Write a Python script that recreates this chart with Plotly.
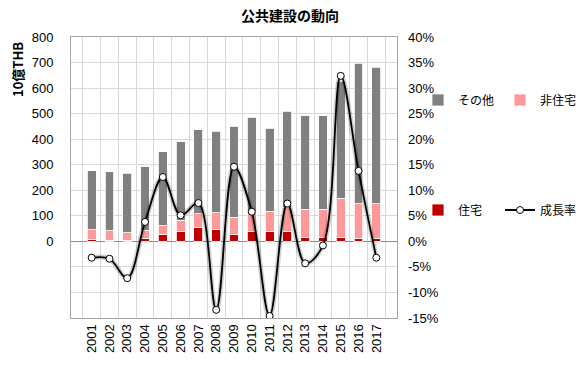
import plotly.graph_objects as go

years = [str(y) for y in range(2001, 2018)]
housing = [7, 5, 3, 13, 25, 38, 53, 45, 26, 38, 38, 40, 17, 17, 16, 13, 10]
nonhousing_top = [45, 41, 33, 44, 62, 83, 109, 113, 94, 118, 118, 132, 126, 126, 168, 148, 148]
total = [277, 273, 266, 293, 350, 389, 437, 431, 450, 485, 442, 509, 492, 491, 626, 697, 682]
growth = [-3.2, -3.4, -7.2, 3.8, 12.6, 5.1, 7.5, -13.4, 14.6, 5.8, -14.6, 7.4, -4.3, -0.8, 32.4, 13.8, -3.2]
left_ticks = list(range(0, 801, 100))
right_ticks = list(range(-15, 41, 5))
right_labels = [f"{v}%" for v in right_ticks]

nonhousing = [a - b for a, b in zip(nonhousing_top, housing)]
other = [a - b for a, b in zip(total, nonhousing_top)]

FONT = "Liberation Sans, Arial, Noto Sans CJK JP"
JP = "Noto Sans CJK JP, Liberation Sans"

L, R, T, B = 71, 183, 37, 60
PW, PH = 580 - L - R, 378 - T - B

fig = go.Figure()
fig.add_bar(x=years, y=housing, name="住宅", marker=dict(color="#C00000", line=dict(color="white", width=0.8)),
            legend="legend2", legendrank=1)
fig.add_bar(x=years, y=nonhousing, name="非住宅", marker=dict(color="#FF9999", line=dict(color="white", width=0.8)),
            legend="legend", legendrank=2)
fig.add_bar(x=years, y=other, name="その他", marker=dict(color="#808080", line=dict(color="white", width=0.8)),
            legend="legend", legendrank=1)
fig.add_scatter(x=years, y=growth, yaxis="y2", mode="lines", showlegend=False, hoverinfo="skip",
                line=dict(color="rgba(0,0,0,0.18)", width=5, shape="spline", smoothing=1.0))
fig.add_scatter(x=years, y=growth, yaxis="y2", mode="lines+markers", name="成長率",
                line=dict(color="black", width=1.8, shape="spline", smoothing=1.0),
                marker=dict(symbol="circle", size=7, color="white", line=dict(color="black", width=1)),
                legend="legend2", legendrank=2)

leg_common = dict(orientation="h", xref="container", yref="container", xanchor="left", yanchor="middle",
                  font=dict(family=JP, size=12), traceorder="normal", itemwidth=30,
                  entrywidth=37, entrywidthmode="pixels", bgcolor="rgba(0,0,0,0)")

fig.update_layout(
    width=580, height=378,
    margin=dict(l=L, r=R, t=T, b=B, autoexpand=False),
    paper_bgcolor="white", plot_bgcolor="white",
    barmode="stack", bargap=0.5,
    font=dict(family=FONT, size=13, color="black"),
    title=dict(text="<b>公共建設の動向</b>", x=290 / 580, xref="container", xanchor="center",
               y=1 - 16 / 378, yref="container", yanchor="middle",
               font=dict(family=JP, size=14, color="black")),
    showlegend=True,
    legend=dict(leg_common, x=418 / 580, y=1 - 100 / 378),
    legend2=dict(leg_common, x=418 / 580, y=1 - 210 / 378),
    xaxis=dict(type="category", tickangle=-90, tickson="boundaries", ticks="",
               tickmode="array", tickvals=years, ticktext=years,
               showgrid=True, gridcolor="#d9d9d9", showline=True, linecolor="#a6a6a6", mirror=True,
               tickfont=dict(size=13), ticklabelstandoff=0),
    yaxis=dict(range=[-300, 800], tickmode="array", tickvals=left_ticks, ticktext=[str(v) for v in left_ticks],
               showgrid=False, zeroline=True, zerolinecolor="#8c8c8c", zerolinewidth=1.2,
               showline=True, linecolor="#a6a6a6", mirror=True, ticks="",
               tickfont=dict(size=13), ticklabelstandoff=14),
    yaxis2=dict(range=[-15, 40], overlaying="y", side="right", tickmode="array",
                tickvals=right_ticks, ticktext=right_labels,
                showgrid=True, gridcolor="#d9d9d9", zeroline=False, ticks="",
                tickfont=dict(size=13), ticklabelstandoff=10),
    annotations=[dict(text="<b>10億THB</b>", textangle=-90, x=(18 - L) / PW, xref="paper",
                      y=(378 - B - 70) / PH, yref="paper", xanchor="center", yanchor="middle",
                      showarrow=False, font=dict(family=JP, size=13))],
)
fig.write_html("out.html", config={"displayModeBar": False},
               post_script="document.body.style.margin='0';")
